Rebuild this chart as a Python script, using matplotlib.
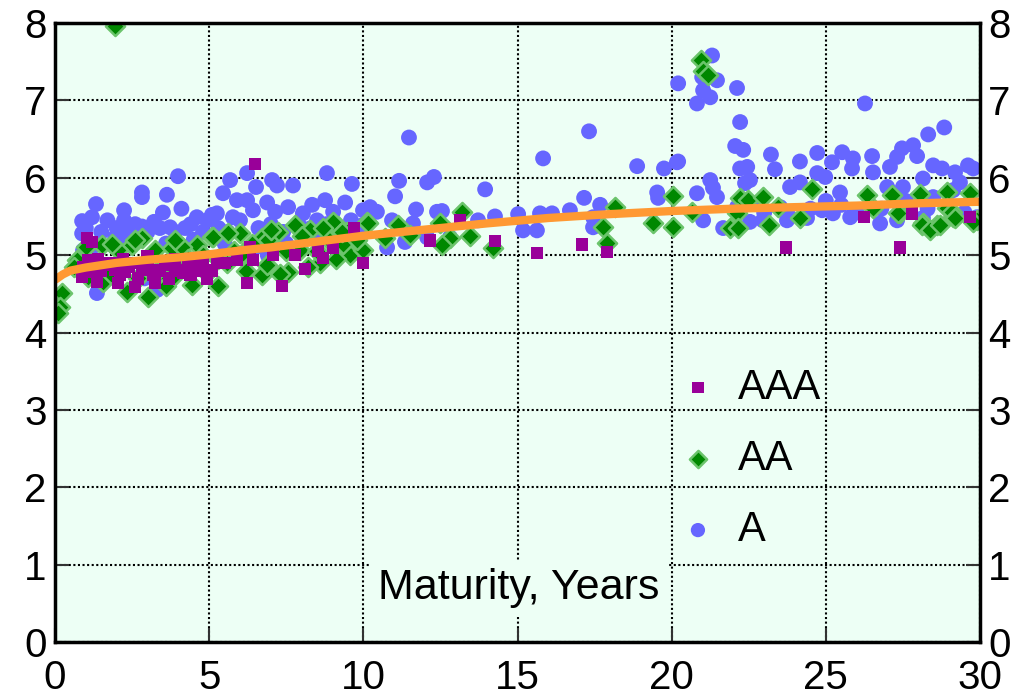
import matplotlib
matplotlib.use("Agg")
import matplotlib.pyplot as plt

plt.rcParams['font.family'] = ['Liberation Sans', 'DejaVu Sans']

# curve (fitted yield curve)
curveX = [0, 0.25, 0.5, 1, 1.5, 2, 3, 4, 5, 6, 7, 8, 9, 10, 12, 14, 16, 18, 20, 22, 24, 26, 28, 30]
curveY = [4.68, 4.75, 4.80, 4.84, 4.87, 4.90, 4.94, 4.97, 5.01, 5.06, 5.10, 5.15, 5.20, 5.25,
          5.33, 5.41, 5.48, 5.53, 5.57, 5.60, 5.62, 5.64, 5.67, 5.69]

# A rated
aX = [3.99, 2.82, 2.82, 3.63, 1.33, 2.24, 2.24, 0.88, 1.2, 2.82, 3.21, 3.73, 4.22, 4.6, 5.09,
      0.88, 1.95, 2.17, 2.5, 1.36, 3.31, 0.91,
      6.23, 5.68, 7.04, 7.2, 7.72, 8.82, 9.63, 6.52, 5.45, 5.9, 6.23, 6.88, 7.56, 8.34, 8.76, 9.41,
      5.25, 5.77, 6.42, 7.14, 8.04, 9.02, 9.99, 8.5, 4.93,
      11.48, 17.32, 15.83, 18.88, 19.75, 20.17, 11.16, 12.07, 12.29, 13.95, 11.03, 11.71, 10.22,
      10.44, 12.39, 12.55, 14.27, 15.02, 15.73, 16.12, 16.7, 17.16, 17.68, 17.45, 19.53, 19.56,
      10.93, 11.61, 13.72, 15.18, 15.63, 10.77, 11.35, 12.81, 17.45, 19.4, 9.99, 12.07,
      21.31, 20.21, 20.82, 21.02, 20.99, 21.47, 22.12, 21.25, 22.22, 22.06, 22.32, 20.21, 23.22,
      24.16, 24.72, 22.22, 22.45, 23.35, 24.72, 21.25, 21.34, 20.82, 21.47, 22.38, 22.54, 23.84,
      24.16, 21.02, 21.67, 22.54, 22.96, 23.74, 24.39, 22.12, 22.77, 23.52, 24.88,
      26.27, 28.84, 28.32, 25.53, 26.5, 27.47, 27.83, 25.2, 25.88, 27.96, 27.31, 29.61, 29.78,
      26.53, 25.85, 27.08, 28.48, 28.77, 29.19, 24.98, 28.15, 25.46, 26.99, 27.5, 29.35, 28.48,
      29.13, 25.23, 25.79, 26.76, 27.31, 28.15, 29.9,
      1.0, 1.5, 2.0, 2.6, 3.0, 3.4, 3.9, 4.4, 4.8, 5.3, 5.6, 6.0, 6.6, 7.0, 7.4, 7.9, 8.3, 8.8,
      9.2, 9.6, 1.2, 2.2, 3.6, 4.5, 5.5, 6.5, 7.5, 8.5, 9.5, 0.9, 2.9, 6.9, 3.5, 1.7, 4.1,
      23.0, 23.8, 24.5, 25.0, 25.5, 26.0, 26.8, 27.6, 28.3, 29.0, 29.5]
aY = [6.02, 5.81, 5.75, 5.78, 5.66, 5.58, 5.45, 5.44, 5.49, 5.37, 5.43, 5.36, 5.35, 5.49, 5.52,
      5.28, 5.23, 5.30, 5.28, 4.51, 4.55, 5.06,
      6.06, 5.97, 5.97, 5.90, 5.90, 6.06, 5.92, 5.88, 5.80, 5.71, 5.71, 5.68, 5.62, 5.65, 5.71, 5.68,
      5.54, 5.49, 5.58, 5.56, 5.54, 5.56, 5.58, 5.45, 5.45,
      6.52, 6.60, 6.25, 6.15, 6.12, 6.20, 5.96, 5.94, 6.01, 5.85, 5.76, 5.59, 5.62,
      5.56, 5.56, 5.57, 5.50, 5.53, 5.54, 5.54, 5.58, 5.74, 5.65, 5.49, 5.81, 5.74,
      5.45, 5.41, 5.45, 5.32, 5.32, 5.10, 5.17, 5.23, 5.36, 5.41, 5.39, 5.23,
      7.58, 7.22, 6.96, 7.13, 7.30, 7.26, 7.16, 7.04, 6.72, 6.41, 6.36, 6.21, 6.30,
      6.21, 6.32, 6.12, 6.14, 6.11, 6.06, 5.97, 5.87, 5.80, 5.75, 5.93, 5.97, 5.88,
      5.94, 5.45, 5.35, 5.43, 5.45, 5.45, 5.48, 5.62, 5.67, 5.62, 5.58,
      6.96, 6.65, 6.56, 6.33, 6.28, 6.38, 6.42, 6.20, 6.25, 6.28, 6.27, 6.16, 6.12,
      6.07, 6.12, 6.14, 6.16, 6.12, 6.07, 6.01, 5.99, 5.81, 5.88, 5.88, 5.94, 5.75,
      5.84, 5.54, 5.49, 5.41, 5.45, 5.48, 5.49,
      5.35, 5.30, 5.35, 5.40, 5.30, 5.35, 5.30, 5.40, 5.30, 5.35, 5.30, 5.45, 5.35, 5.40, 5.30, 5.40, 5.35, 5.40,
      5.30, 5.45, 5.10, 5.15, 5.15, 5.20, 5.15, 5.10, 5.15, 5.20, 5.15, 4.98, 4.70, 5.00, 5.55, 5.45, 5.60,
      5.55, 5.50, 5.60, 5.70, 5.65, 5.55, 5.60, 5.70, 5.60, 5.65, 5.55]

# AA rated
aaX = [0.23, 0.16, 0.1, 0.71, 1.52, 2.82, 2.5, 1.07, 1.56, 2.34, 3.02, 3.57, 3.83, 4.44, 4.6, 5.09,
       3.24, 3.8, 4.12, 2.04, 1.85,
       7.78, 9.18, 9.02, 10.12, 6.0, 5.12, 6.71, 7.23, 8.27, 9.47, 5.58, 6.71, 6.88, 7.56, 8.6,
       4.93, 9.57, 7.95, 6.1, 9.34,
       10.15, 11.13, 10.7, 11.52, 12.49, 12.81, 12.55, 13.2, 13.46, 14.21, 9.99, 18.16, 17.77,
       17.9, 19.4, 20.05, 20.05,
       20.95, 21.02, 21.18, 20.66, 22.22, 22.48, 22.96, 23.45, 22.12, 21.89, 22.15, 23.16,
       24.16, 24.55,
       26.34, 27.15, 28.06, 28.93, 29.68, 26.53, 27.41, 28.15, 28.61, 29.13, 28.93, 29.9,
       27.34, 28.12, 28.38, 28.71, 29.1, 29.19, 29.78,
       1.95,
       1.2, 1.8, 2.2, 2.7, 3.3, 3.6, 4.0, 4.3, 4.8, 5.3, 5.8, 6.4, 6.9, 7.5, 8.0, 8.5, 8.9, 9.3,
       9.8, 1.0, 2.6, 3.9, 5.6, 7.0, 8.7, 0.6, 5.3, 6.2, 7.3, 8.2, 9.1]
aaY = [4.51, 4.33, 4.25, 4.94, 5.13, 5.22, 5.13, 4.72, 4.65, 4.52, 4.46, 4.74, 4.72, 4.61, 5.13, 5.23,
       5.06, 5.09, 5.10, 5.06, 5.15,
       5.39, 5.37, 5.43, 5.43, 5.28, 5.23, 5.22, 5.30, 5.32, 5.30, 4.90, 4.74, 4.87, 4.78, 4.90,
       4.77, 5.00, 5.06, 5.03, 5.15,
       5.41, 5.39, 5.22, 5.26, 5.41, 5.22, 5.13, 5.56, 5.25, 5.09, 5.06, 5.62, 5.36,
       5.16, 5.41, 5.77, 5.36,
       7.52, 7.38, 7.33, 5.56, 5.74, 5.71, 5.75, 5.62, 5.54, 5.35, 5.35, 5.39,
       5.48, 5.85,
       5.78, 5.78, 5.79, 5.81, 5.80, 5.61, 5.54, 5.41, 5.39, 5.49, 5.61, 5.45,
       5.54, 5.39, 5.32, 5.39, 5.56, 5.48, 5.43,
       7.96,
       4.90, 4.75, 4.85, 4.70, 4.80, 4.60, 4.85, 4.95, 5.00, 4.95, 5.05, 5.15, 5.20, 5.05, 5.25, 5.05, 5.20, 5.30,
       5.20, 5.10, 5.20, 5.20, 5.28, 5.32, 5.35, 4.85, 4.60, 4.80, 4.75, 4.85, 4.95]

# AAA rated
aaaX = [1.04, 1.2, 0.88, 1.36, 2.04, 2.6, 3.24, 4.15, 4.93, 2.5, 1.62, 3.57, 1.07, 3.02, 4.31, 4.6,
        1.95, 2.27, 3.89, 1.3, 2.82,
        6.49, 9.7, 6.33, 7.07, 7.78, 8.53, 9.02, 8.69, 9.99, 5.9, 6.42, 8.11, 6.23, 7.36, 4.93, 5.25,
        13.14, 12.16, 14.27, 15.63, 17.09, 17.9, 9.99,
        23.71, 26.24, 27.8, 27.41, 29.68,
        1.5, 1.8, 2.1, 2.4, 2.7, 2.9, 3.2, 3.4, 3.7, 4.0, 4.4, 4.7, 1.1, 0.9, 1.4, 2.2, 3.0, 3.9,
        4.8, 5.5, 5.1]
aaaY = [5.22, 5.17, 4.72, 4.65, 4.64, 4.59, 4.64, 4.77, 4.72, 4.90, 4.87, 4.87, 4.94, 4.83, 4.90, 4.87,
        4.81, 4.78, 4.85, 4.85, 4.81,
        6.18, 5.35, 5.10, 5.00, 5.00, 5.06, 5.09, 4.96, 4.90, 4.94, 4.94, 4.82, 4.64, 4.60, 4.70, 4.96,
        5.45, 5.19, 5.18, 5.03, 5.14, 5.04, 4.90,
        5.10, 5.49, 5.54, 5.10, 5.49,
        4.80, 4.90, 4.75, 4.85, 4.70, 4.90, 4.75, 4.80, 4.70, 4.80, 4.75, 4.80, 4.78, 4.85, 4.95, 4.95, 4.98, 4.95,
        4.95, 4.90, 4.80]

bg = '#EDFFF5'

fig = plt.figure(figsize=(10.25, 6.98), dpi=100)
ax = fig.add_axes([55/1025, 56/698, 925/1025, 619/698])
ax.set_facecolor(bg)

ax.scatter(aX, aY, s=130, marker='o', color='#6666FF', edgecolors='none', zorder=2, label='A')
ax.scatter(aaX, aaY, s=95, marker='D', facecolor='#008800', edgecolors='#6CC46C', linewidths=1.8,
           zorder=2.1, label='AA')
ax.scatter(aaaX, aaaY, s=80, marker='s', color='#990099', edgecolors='none', zorder=2.2, label='AAA')
ax.plot(curveX, curveY, color='#FF9933', linewidth=6, solid_capstyle='butt', zorder=2.5)

ax.set_xlim(0, 30)
ax.set_ylim(0, 8)
ax.set_xticks(range(0, 31, 5))
ax.set_yticks(range(0, 9))
ax.grid(True, color='black', linestyle=(0, (1, 1.2)), linewidth=1.5)
ax.tick_params(axis='both', direction='in', length=10, width=1.5, color='#333333',
               labelsize=29, right=True, labelright=True, pad=6)
ax.tick_params(axis='x', pad=12)
for s in ax.spines.values():
    s.set_linewidth(2.5)

ax.text(15.05, 0.70, 'Maturity, Years', fontsize=31, ha='center', va='center', zorder=3,
        bbox=dict(facecolor=bg, edgecolor='none', pad=6))

h, l = ax.get_legend_handles_labels()
leg = ax.legend(h[::-1], l[::-1], loc='center left', bbox_to_anchor=(0.632, 0.296), frameon=False,
                fontsize=30, handlelength=1.0, handletextpad=0.45, labelspacing=0.75,
                markerscale=0.9)

fig.savefig('out.png', dpi=100)
